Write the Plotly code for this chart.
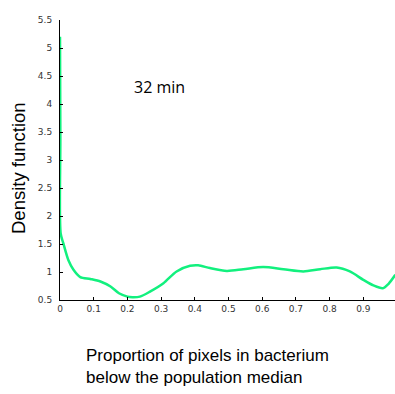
import plotly.graph_objects as go

x_vals = [0, 0.001, 0.002, 0.01, 0.025, 0.04, 0.06, 0.09, 0.12, 0.15, 0.175, 0.2, 0.215,
          0.237, 0.267, 0.307, 0.346, 0.386, 0.41, 0.445, 0.495, 0.544, 0.603, 0.663,
          0.722, 0.772, 0.821, 0.86, 0.9, 0.93, 0.958, 0.975, 0.995]
density = [5.2, 3.4, 1.69, 1.51, 1.21, 1.04, 0.91, 0.875, 0.83, 0.74, 0.62, 0.56, 0.55,
           0.56, 0.65, 0.80, 1.01, 1.11, 1.12, 1.07, 1.02, 1.05, 1.09, 1.05,
           1.01, 1.05, 1.08, 1.01, 0.86, 0.76, 0.71, 0.79, 0.95]
x_ticks = [0, 0.1, 0.2, 0.3, 0.4, 0.5, 0.6, 0.7, 0.8, 0.9]
x_ticklabels = ["0", "0.1", "0.2", "0.3", "0.4", "0.5", "0.6", "0.7", "0.8", "0.9"]
y_ticks = [0.5, 1, 1.5, 2, 2.5, 3, 3.5, 4, 4.5, 5, 5.5]
y_ticklabels = ["0.5", "1", "1.5", "2", "2.5", "3", "3.5", "4", "4.5", "5", "5.5"]

W, H = 395, 394
ml, mr, mt, mb = 60, 0, 20, 94
pw, ph = W - ml - mr, H - mt - mb

fig = go.Figure()
fig.add_trace(go.Scatter(x=x_vals, y=density, mode="lines",
                         line=dict(color="#12F07E", width=2.5, shape="spline", smoothing=0.8),
                         showlegend=False, hoverinfo="skip"))

tickfont = dict(family="DejaVu Sans", size=9, color="#333333")
fig.update_xaxes(range=[0, pw / 337.0], tickvals=x_ticks, ticktext=x_ticklabels,
                 ticks="inside", ticklen=3, tickcolor="#000", showline=True,
                 linecolor="#000", linewidth=1, showgrid=False, zeroline=False,
                 tickfont=tickfont)
fig.update_yaxes(range=[0.5, 5.5], tickvals=y_ticks, ticktext=y_ticklabels,
                 ticks="inside", ticklen=3, tickcolor="#000", showline=True,
                 linecolor="#000", linewidth=1, showgrid=False, zeroline=False,
                 tickfont=tickfont, ticklabelstandoff=5)

anns = [
    dict(x=1, y=0.5, xref="x", yref="y", text="1", showarrow=False, yshift=-11,
         font=tickfont),
    dict(x=(18 - ml) / pw, y=(H - mb - 168) / ph, xref="paper", yref="paper",
         xanchor="center", yanchor="middle",
         text="Density function", textangle=-90, showarrow=False,
         font=dict(family="Liberation Sans", size=18.5, color="#000")),
    dict(x=(84 - ml) / pw, y=(H - mb - 344) / ph, xref="paper", yref="paper",
         xanchor="left", yanchor="top", align="left",
         text="Proportion of pixels in bacterium<br>below the population median",
         showarrow=False, font=dict(family="Liberation Sans", size=17, color="#000")),
    dict(x=(159 - ml) / pw, y=(H - mb - 87) / ph, xref="paper", yref="paper",
         xanchor="center", yanchor="middle",
         text="32 min", showarrow=False,
         font=dict(family="Open Sans", size=16, color="#000")),
]
fig.update_layout(width=W, height=H, margin=dict(l=ml, r=mr, t=mt, b=mb),
                  paper_bgcolor="white", plot_bgcolor="white", annotations=anns)
fig.write_html("out.html")
